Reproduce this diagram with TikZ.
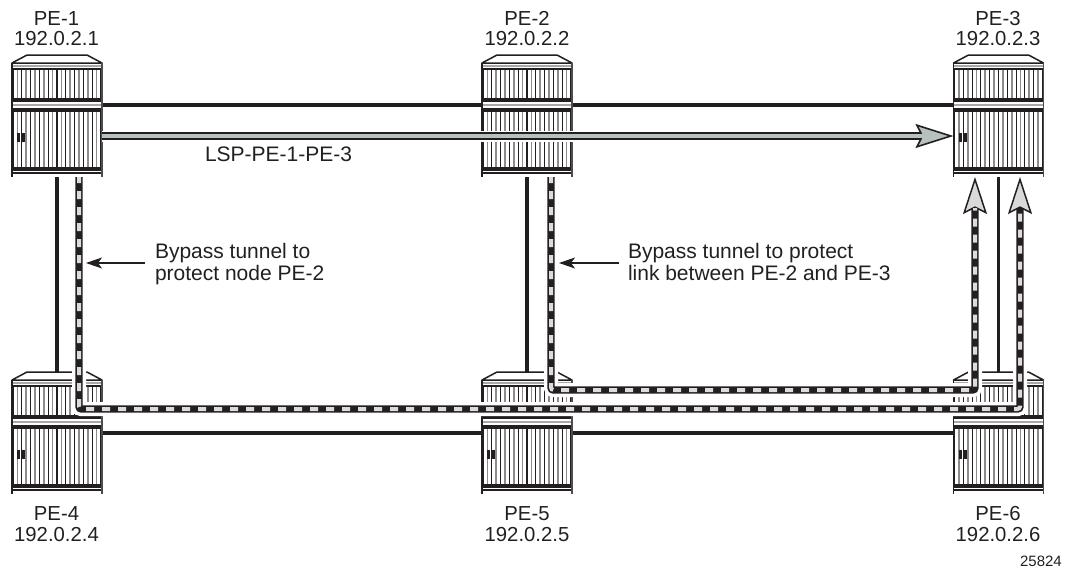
\documentclass[tikz,border=0pt]{standalone}
\usepackage{fontspec}
\setmainfont{Liberation Sans}
\usetikzlibrary{arrows.meta,calc}
\definecolor{ink}{HTML}{231F20}
\definecolor{ribgray}{HTML}{8C8C8C}
\definecolor{bandgray}{HTML}{A8A8A8}
\definecolor{shaftgray}{HTML}{B7C2BF}
\definecolor{headgray}{HTML}{D9D9D9}
\definecolor{dashgray}{HTML}{DCDCDC}
\tikzset{
  x=1pt,y=-1pt,
  routerbody/.style={rectangle,minimum width=90pt,minimum height=114pt,inner sep=0pt,outer sep=0pt},
  lbl/.style={inner sep=0pt,outer sep=0pt,text=ink,align=center,font=\fontsize{20.3}{20.8}\selectfont},
  note/.style={inner sep=0pt,outer sep=0pt,text=ink,align=left,font=\fontsize{21}{22.4}\selectfont},
  link/.style={draw=ink,line width=3.6pt},
  halo/.style={draw=white,line width=14pt,rounded corners=2pt},
  tunnel/.style={draw=ink,line width=7.4pt,rounded corners=2.5pt,
    -{Stealth[length=37pt,width=24pt,inset=6pt,fill=headgray,line width=1.5pt]}},
  tunneldash/.style={draw=dashgray,line width=4pt,rounded corners=2.5pt,dash pattern=on 8pt off 8pt,dash phase=2pt,shorten >=31pt},
  lsphalo/.style={draw=white,line width=11pt,shorten >=36pt},
  lspouter/.style={draw=ink,line width=8pt,
    -{Stealth[length=38pt,width=24pt,inset=6pt,fill=shaftgray,line width=1.6pt]}},
  lspinner/.style={draw=shaftgray,line width=4.6pt,shorten >=30pt},
  pointer/.style={draw=ink,line width=1.2pt,-{Stealth[length=16pt,width=11pt,inset=4pt]}},
  router/.pic={
    \fill[white] (0,0) rectangle (90,114);
    \foreach \k in {-9,-7,...,9}{
      \draw[ribgray,line width=1.7pt] (45+4.4*\k,7) -- (45+4.4*\k,35);
      \draw[ribgray,line width=1.7pt] (45+4.4*\k,48) -- (45+4.4*\k,104);}
    \foreach \k in {-10,-8,...,10}{
      \draw[ink,line width=1.1pt] (45+4.4*\k,7) -- (45+4.4*\k,35);
      \draw[ink,line width=1.1pt] (45+4.4*\k,48) -- (45+4.4*\k,104);}
    \filldraw[fill=white,draw=ink,line width=1.5pt,line join=round] (0,0) -- (15,-8) -- (75,-8) -- (90,0) -- cycle;
    \draw[bandgray,line width=2pt] (0,2.7) -- (90,2.7);
    \draw[ink,line width=2.4pt] (0,6) -- (90,6);
    \fill[ink] (0,35) rectangle (90,38.5);
    \draw[bandgray,line width=1.2pt] (0,42) -- (90,42);
    \fill[ink] (0,44.8) rectangle (90,48.5);
    \fill[ink] (0,103.7) rectangle (90,107.7);
    \fill[ink] (0,109) rectangle (90,111);
    \fill[ink] (5,70) rectangle (8.3,79);
    \fill[ink] (9.7,70) rectangle (13,79);
    \draw[ink,line width=1.8pt] (0,0) -- (0,114);
    \draw[ink!80,line width=1.8pt] (90,0) -- (90,114);
  }
}
\begin{document}
\begin{tikzpicture}
\useasboundingbox (0,0) rectangle (1066,568);
% router anchors
\node[routerbody] (pe1) at (57,120) {};
\node[routerbody] (pe2) at (527,120) {};
\node[routerbody] (pe3) at (998.5,120) {};
\node[routerbody] (pe4) at (57,437) {};
\node[routerbody] (pe5) at (527,437) {};
\node[routerbody] (pe6) at (998.5,437) {};
% bypass corner points and ends
\coordinate (aS) at ($(pe1.south)+(22,0)$);
\coordinate (aB) at (aS |- 0,409);
\coordinate (aE) at ($(pe3.south)+(21.5,0)$);
\coordinate (bS) at ($(pe2.south)+(24,0)$);
\coordinate (bB) at (bS |- 0,390);
\coordinate (bE) at ($(pe3.south)+(-23.5,0)$);
% plain links
\draw[link] (pe1.south) -- (pe4.north);
\draw[link] (pe2.south) -- (pe5.north);
\draw[link] (pe3.south) -- (pe6.north);
\draw[link] ([yshift=15pt]pe1.east) -- ([yshift=15pt]pe2.west);
\draw[link] ([yshift=15pt]pe2.east) -- ([yshift=15pt]pe3.west);
\draw[link] ([yshift=4pt]pe4.east) -- ([yshift=4pt]pe5.west);
\draw[link] ([yshift=4pt]pe5.east) -- ([yshift=4pt]pe6.west);
% routers
\foreach \r in {pe1,pe2,pe3,pe4,pe5,pe6}{\pic at (\r.north west) {router};}
% LSP
\draw[lsphalo] ([yshift=-16pt]pe1.east) -- ([yshift=-16pt]pe3.west);
\draw[lspouter] ([yshift=-16pt]pe1.east) -- ([yshift=-16pt]pe3.west);
\draw[lspinner] ([yshift=-16pt]pe1.east) -- ([yshift=-16pt]pe3.west);
% bypass tunnels
\draw[halo] (aS) -- (aB) -- (aE |- aB) -- ($(aE)+(0,36)$);
\draw[tunnel] (aS) -- (aB) -- (aE |- aB) -- (aE);
\draw[tunneldash] (aS) -- (aB) -- (aE |- aB) -- (aE);
\draw[halo] (bS) -- (bB) -- (bE |- bB) -- ($(bE)+(0,36)$);
\draw[tunnel] (bS) -- (bB) -- (bE |- bB) -- (bE);
\draw[tunneldash] (bS) -- (bB) -- (bE |- bB) -- (bE);
% labels
\node[lbl,anchor=base] (t1) at (56.5,25) {PE-1};
\node[lbl,anchor=base] (a1) at (56.5,45.7) {192.0.2.1};
\node[lbl,anchor=base] (t2) at (527,25) {PE-2};
\node[lbl,anchor=base] (a2) at (527,45.7) {192.0.2.2};
\node[lbl,anchor=base] (t3) at (998,25) {PE-3};
\node[lbl,anchor=base] (a3) at (998,45.7) {192.0.2.3};
\node[lbl,anchor=base] (t4) at (56.5,520.7) {PE-4};
\node[lbl,anchor=base] (a4) at (56.5,541.5) {192.0.2.4};
\node[lbl,anchor=base] (t5) at (527,520.7) {PE-5};
\node[lbl,anchor=base] (a5) at (527,541.5) {192.0.2.5};
\node[lbl,anchor=base] (t6) at (998,520.7) {PE-6};
\node[lbl,anchor=base] (a6) at (998,541.5) {192.0.2.6};
\node[note,anchor=base west] (lsp) at (205,161.2) {LSP-PE-1-PE-3};
\node[note,anchor=base west] (n1a) at (155,258) {Bypass tunnel to};
\node[note,anchor=base west] (n1b) at (155,280.5) {protect node PE-2};
\node[note,anchor=base west] (n2a) at (628,258) {Bypass tunnel to protect};
\node[note,anchor=base west] (n2b) at (628,280.5) {link between PE-2 and PE-3};
\node[inner sep=0pt,text=ink,font=\fontsize{15}{15}\selectfont,anchor=base east] (fig) at (1062,566) {25824};
% pointers
\coordinate (p1) at (aS |- 0,263);
\coordinate (p2) at (bS |- 0,263);
\draw[pointer] (n1a.west |- 0,263) ++(-10,0) -- ($(p1)+(7,0)$);
\draw[pointer] (n2a.west |- 0,263) ++(-9,0) -- ($(p2)+(8,0)$);
\end{tikzpicture}
\end{document}
